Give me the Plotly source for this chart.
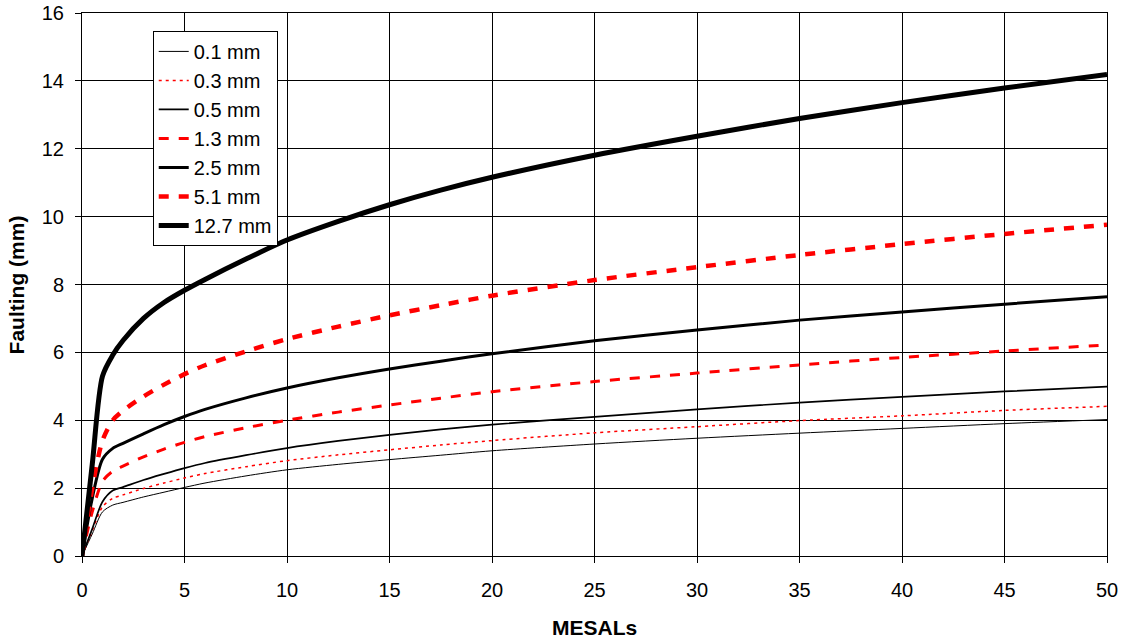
import plotly.graph_objects as go

# MESALs sample positions
mesals = [0, 0.5, 1, 1.5, 2, 3, 4, 5, 6, 8, 10, 12.5, 15, 17.5, 20, 25, 30, 35, 40, 45, 50]

# Faulting (mm) per joint opening series
f_0_1 = [0, 0.65, 1.3, 1.5, 1.58, 1.74, 1.88, 2.02, 2.15, 2.36, 2.54, 2.70, 2.84, 2.97, 3.10, 3.30, 3.47, 3.62, 3.76, 3.90, 4.02]
f_0_3 = [0, 0.75, 1.45, 1.70, 1.80, 1.99, 2.15, 2.30, 2.43, 2.63, 2.81, 2.98, 3.13, 3.27, 3.40, 3.63, 3.81, 3.99, 4.13, 4.29, 4.41]
f_0_5 = [0, 0.80, 1.60, 1.93, 2.03, 2.24, 2.42, 2.59, 2.74, 2.97, 3.18, 3.39, 3.57, 3.73, 3.87, 4.10, 4.32, 4.52, 4.69, 4.85, 4.99]
f_1_3 = [0, 1.30, 2.20, 2.50, 2.65, 2.92, 3.15, 3.35, 3.52, 3.78, 4.00, 4.24, 4.45, 4.65, 4.84, 5.14, 5.39, 5.63, 5.85, 6.04, 6.22]
f_2_5 = [0, 1.70, 2.85, 3.17, 3.32, 3.60, 3.87, 4.11, 4.32, 4.66, 4.95, 5.25, 5.51, 5.74, 5.96, 6.34, 6.66, 6.95, 7.19, 7.42, 7.64]
f_5_1 = [0, 2.00, 3.40, 4.00, 4.28, 4.70, 5.05, 5.36, 5.62, 6.03, 6.39, 6.76, 7.09, 7.39, 7.67, 8.13, 8.51, 8.87, 9.19, 9.49, 9.76]
f_12_7 = [0, 2.70, 5.30, 5.92, 6.35, 7.00, 7.47, 7.83, 8.15, 8.75, 9.31, 9.86, 10.35, 10.78, 11.16, 11.81, 12.37, 12.89, 13.36, 13.79, 14.19]

series_names = ["0.1 mm", "0.3 mm", "0.5 mm", "1.3 mm", "2.5 mm", "5.1 mm", "12.7 mm"]
series_values = [f_0_1, f_0_3, f_0_5, f_1_3, f_2_5, f_5_1, f_12_7]

styles = [
    dict(color="black", width=1, dash="solid"),
    dict(color="#FF0000", width=1.5, dash="3px,4px"),
    dict(color="black", width=1.7, dash="solid"),
    dict(color="#FF0000", width=3, dash="10px,10px"),
    dict(color="black", width=3, dash="solid"),
    dict(color="#FF0000", width=4.5, dash="10px,10px"),
    dict(color="black", width=5, dash="solid"),
]

x_ticks = [0, 5, 10, 15, 20, 25, 30, 35, 40, 45, 50]
y_ticks = [0, 2, 4, 6, 8, 10, 12, 14, 16]

fig = go.Figure()
for name, vals, st in zip(series_names, series_values, styles):
    fig.add_trace(go.Scatter(x=mesals, y=vals, mode="lines", name=name,
                             line=dict(color=st["color"], width=st["width"], dash=st["dash"],
                                       shape="spline", smoothing=0.8)))

font_family = "Liberation Sans, Arial, sans-serif"

fig.update_layout(
    width=1124, height=640,
    margin=dict(l=82, r=17, t=13, b=84, autoexpand=False),
    paper_bgcolor="white", plot_bgcolor="white",
    font=dict(family=font_family, size=20, color="black"),
    showlegend=True,
    legend=dict(x=0.069, y=0.967, xanchor="left", yanchor="top",
                bgcolor="white", bordercolor="black", borderwidth=1,
                entrywidth=125, entrywidthmode="pixels",
                font=dict(size=20, family=font_family)),
)
fig.update_xaxes(range=[0, 50], tickvals=x_ticks, ticktext=[str(v) for v in x_ticks],
                 showgrid=True, gridcolor="black", gridwidth=1,
                 showline=True, linecolor="black", linewidth=1, mirror=True,
                 ticks="outside", ticklen=6, tickcolor="black", ticklabelstandoff=10,
                 ticklabeloverflow="allow",
                 zeroline=False, automargin=False, tickfont=dict(size=20))
fig.update_yaxes(range=[0, 16], tickvals=y_ticks, ticktext=[str(v) for v in y_ticks],
                 showgrid=True, gridcolor="black", gridwidth=1,
                 showline=True, linecolor="black", linewidth=1, mirror=True,
                 ticks="outside", ticklen=6, tickcolor="black", ticklabelstandoff=7,
                 ticklabeloverflow="allow",
                 zeroline=False, automargin=False, tickfont=dict(size=20))

fig.add_annotation(text="<b>MESALs</b>", xref="paper", yref="paper", x=0.5, y=-0.131,
                   xanchor="center", yanchor="middle", showarrow=False,
                   font=dict(size=21, family=font_family))
fig.add_annotation(text="<b>Faulting (mm)</b>", xref="paper", yref="paper", x=-0.0635, y=0.5,
                   xanchor="center", yanchor="middle", showarrow=False, textangle=-90,
                   font=dict(size=21, family=font_family))

# remove the browser's default 8px body margin so the figure fills the window exactly
fig.write_html("out.html", config={"displayModeBar": False},
               post_script="document.body.style.margin='0';")
